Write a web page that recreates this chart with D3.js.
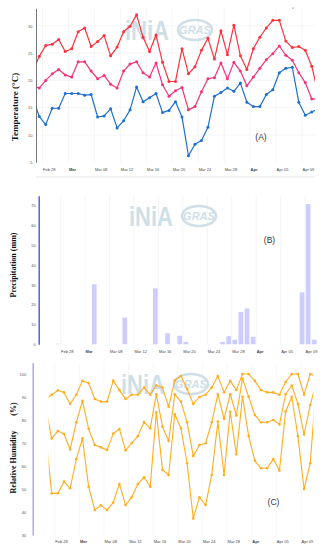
<!DOCTYPE html>
<html>
<head>
<meta charset="utf-8">
<script src="https://cdn.jsdelivr.net/npm/d3@7"></script>
<style>
  body { margin: 0; background: #fff; }
  svg { display: block; }
  .tick text { font-family: "Liberation Sans", Arial, sans-serif; }
  .ytitle { font-family: "Liberation Serif", "Times New Roman", serif; font-weight: bold; fill: #111; }
  .plabel { font-family: "Liberation Sans", Arial, sans-serif; fill: #333; }
</style>
</head>
<body>
<svg id="chart" width="323" height="550"></svg>
<script>
// one value per day, Feb 26 .. Apr 11 (first and last only show as clipped line ends)
var startDay = "2018-02-26";

var tMax = [21.6, 24.4, 26.4, 26.6, 27.5, 25.3, 25.8, 28.9, 29.6, 26.2, 27.1,
  28.2, 24.5, 26.1, 28.9, 29.9, 32.0, 27.9, 25.3, 28.3, 23.3,
  19.8, 19.8, 25.8, 21.2, 22.5, 25.5, 27.7, 23.9, 29.1, 24.7,
  30.1, 24.5, 22.0, 25.8, 27.9, 29.6, 31.0, 31.0, 27.2, 26.0,
  26.2, 25.5, 22.6, 17.6];
var tMean = [19.0, 18.6, 20.0, 21.2, 22.0, 21.0, 20.6, 23.4, 23.4, 21.7, 20.3,
  20.9, 19.3, 18.6, 21.7, 23.0, 23.4, 21.4, 20.6, 23.2, 19.2,
  17.1, 18.1, 18.7, 14.6, 15.2, 17.9, 20.3, 20.5, 23.2, 20.3,
  23.3, 21.7, 19.0, 20.6, 22.2, 23.8, 24.9, 26.3, 24.6, 23.7,
  21.4, 19.6, 16.6, 16.6];
var tMin = [16.8, 13.4, 11.9, 14.9, 14.9, 17.6, 17.6, 17.6, 17.3, 17.4, 13.3,
  13.5, 14.8, 11.3, 12.6, 14.6, 18.8, 16.1, 16.8, 17.6, 14.1,
  14.5, 16.1, 13.3, 6.2, 8.3, 9.0, 11.4, 17.1, 17.8, 18.6,
  18.0, 19.5, 16.0, 15.2, 15.2, 17.4, 18.3, 21.4, 22.2, 22.4,
  16.0, 13.6, 14.2, 14.8];

var precip = [0, 0.3, 0, 0, 0, 0, 0, 30.3, 0, 0, 0,
  0, 13.5, 0, 0, 0, 0, 28.2, 0, 5.6, 0,
  4.3, 1.2, 0, 0, 0, 0, 0, 1.2, 4.1, 2.3,
  16.3, 18.1, 3.8, 0, 0, 0, 0, 0, 0, 0,
  26.2, 70.8, 2.3, 0];

var rhMax = [88.8, 91.0, 92.9, 92.0, 87.0, 91.0, 97.0, 96.1, 89.1, 88.0, 88.0,
  97.1, 93.0, 89.1, 91.0, 91.0, 94.1, 91.0, 95.1, 94.1, 85.8,
  97.2, 99.1, 93.5, 87.0, 90.0, 91.0, 94.1, 99.1, 92.0, 97.0,
  93.0, 100, 100, 97.0, 93.0, 92.0, 92.0, 91.0, 96.5, 100,
  100, 91.0, 100, 99.0];
var rhMean = [86.0, 72.0, 75.2, 73.9, 67.2, 79.0, 88.3, 76.1, 69.1, 68.1, 67.0,
  74.1, 76.1, 66.8, 70.0, 73.0, 79.1, 76.4, 91.2, 77.1, 70.9,
  91.2, 88.0, 79.0, 64.3, 69.1, 69.9, 79.0, 91.2, 80.5, 91.2,
  82.0, 98.0, 90.1, 82.2, 79.0, 79.0, 80.0, 78.1, 91.2, 95.0,
  87.0, 73.7, 86.5, 96.5];
var rhMin = [74.3, 48.1, 48.1, 53.2, 50.3, 63.0, 72.0, 51.0, 40.9, 42.9, 40.9,
  44.1, 52.2, 43.0, 46.4, 52.2, 55.1, 51.0, 83.3, 58.3, 56.1,
  82.5, 76.4, 61.2, 37.2, 46.4, 43.0, 56.1, 79.3, 56.1, 83.6,
  65.1, 90.1, 73.0, 62.3, 59.0, 59.0, 63.0, 58.0, 83.6, 90.1,
  73.0, 50.0, 61.2, 96.0];

var tickDays = ["2018-02-28", "2018-03-04", "2018-03-08", "2018-03-12", "2018-03-16",
  "2018-03-20", "2018-03-24", "2018-03-28", "2018-04-01", "2018-04-05", "2018-04-09"];
var tickLabels = ["Feb 28", "Mar", "Mar 08", "Mar 12", "Mar 16", "Mar 20",
  "Mar 24", "Mar 28", "Apr", "Apr 05", "Apr 09"];

var tempTicks = [5, 10, 15, 20, 25, 30];
var precipTicks = [0, 10, 20, 30, 40, 50, 60, 70];
var rhTicks = [30, 40, 50, 60, 70, 80, 90, 100];

///////////////////////////////////////////////////////////////////////////////

var parseDay = d3.utcParse("%Y-%m-%d");
var first = parseDay(startDay);
var days = d3.utcDay.range(first, d3.utcDay.offset(first, tMax.length));
var noon = function (d) { return d3.utcHour.offset(d, 12); };
var tickDates = tickDays.map(parseDay);

// shown data runs from Feb 27 00:00 to Apr 11 00:00
var dataStart = days[1];
var dataEnd = days[days.length - 1];
var padStart = d3.utcHour.offset(dataStart, -62);

var svg = d3.select("#chart");
var defs = svg.append("defs");

var clip = function (id, x0, x1, y0, y1) {
  defs.append("clipPath").attr("id", id)
    .append("rect")
    .attr("x", x0).attr("y", y0)
    .attr("width", x1 - x0).attr("height", y1 - y0);
  return "url(#" + id + ")";
};

var watermark = function (cx, cy) {
  var g = svg.append("g").attr("opacity", 0.85);
  g.append("text")
    .attr("x", cx - 47).attr("y", cy + 10)
    .attr("textLength", 44).attr("lengthAdjust", "spacingAndGlyphs")
    .style("font-family", "Liberation Sans, Arial, sans-serif")
    .style("font-weight", "bold").style("font-size", "28px")
    .style("fill", "#c7dae5")
    .text("iNiA");
  g.append("ellipse")
    .attr("cx", cx + 23).attr("cy", cy).attr("rx", 17).attr("ry", 10)
    .style("fill", "none").style("stroke", "#c7dae5").style("stroke-width", 2.5);
  g.append("text")
    .attr("x", cx + 23).attr("y", cy + 4).attr("text-anchor", "middle")
    .style("font-family", "Liberation Sans, Arial, sans-serif")
    .style("font-weight", "bold").style("font-style", "italic")
    .style("font-size", "11px").style("fill", "#c7dae5")
    .text("GRAS");
};

var vGrid = function (x, y0, y1, color) {
  svg.append("g").selectAll("line").data(tickDates).enter().append("line")
    .attr("x1", function (d) { return x(d); })
    .attr("x2", function (d) { return x(d); })
    .attr("y1", y0).attr("y2", y1)
    .style("stroke", color).style("stroke-width", 0.6);
};

var xAxis = function (x, yPos) {
  var g = svg.append("g")
    .attr("transform", "translate(0," + yPos + ")")
    .call(d3.axisBottom(x).tickValues(tickDates).tickSize(0).tickPadding(3)
      .tickFormat(function (d, i) { return tickLabels[i]; }));
  g.select(".domain").remove();
  g.selectAll("text")
    .attr("text-anchor", "start")
    .style("font-size", "4px").style("fill", "#444")
    .style("font-weight", function (d, i) {
      return tickLabels[i].length === 3 ? "bold" : "normal";
    });
};

var yAxis = function (y, xPos, ticks, pad, color, width) {
  var g = svg.append("g")
    .attr("transform", "translate(" + xPos + ",0)")
    .call(d3.axisLeft(y).tickValues(ticks).tickSize(0).tickSizeOuter(0).tickPadding(pad));
  g.select(".domain").style("stroke", color).style("stroke-width", width);
  g.selectAll("text").style("font-size", "4px").style("fill", "#555");
};

var yTitle = function (text, cx, cy, size) {
  svg.append("text").attr("class", "ytitle")
    .attr("transform", "translate(" + cx + "," + cy + ") rotate(-90)")
    .attr("text-anchor", "middle").attr("dy", "0.35em")
    .style("font-size", size + "px")
    .text(text);
};

var series = function (x, y, values, color, r, width, clipUrl) {
  var pts = days.map(function (d, i) { return { date: d, v: values[i] }; });
  var g = svg.append("g").attr("clip-path", clipUrl);
  g.append("path").datum(pts)
    .attr("d", d3.line()
      .x(function (d) { return x(noon(d.date)); })
      .y(function (d) { return y(d.v); }))
    .style("fill", "none").style("stroke", color)
    .style("stroke-width", width).style("stroke-linejoin", "round");
  g.selectAll("circle").data(pts).enter().append("circle")
    .attr("cx", function (d) { return x(noon(d.date)); })
    .attr("cy", function (d) { return y(d.v); })
    .attr("r", r)
    .style("fill", color);
};

///////////////////////////////////////////////////////////////////////////////
// (A) temperature

var xA = d3.scaleUtc().domain([dataStart, dataEnd]).range([36, 315]);
var yA = d3.scaleLinear().domain([5, 33.2]).range([162.3, 8.3]);

svg.append("g").selectAll("line").data(tempTicks.slice(1)).enter().append("line")
  .attr("x1", 36).attr("x2", 315)
  .attr("y1", function (d) { return yA(d); })
  .attr("y2", function (d) { return yA(d); })
  .style("stroke", "#eeeeee").style("stroke-width", 0.6);
vGrid(xA, 8.3, 162.3, "#eeeeee");
svg.append("line").attr("x1", 36).attr("x2", 315).attr("y1", 177).attr("y2", 177)
  .style("stroke", "#e2e2e2").style("stroke-width", 0.8);

watermark(172, 30);

var clipA = clip("clipA", 36, 315, 0, 170);
series(xA, yA, tMin, "#1f6fd1", 1.5, 1.2, clipA);
series(xA, yA, tMean, "#f2337a", 1.5, 1.2, clipA);
series(xA, yA, tMax, "#fa323c", 1.5, 1.2, clipA);

yAxis(yA, 36, tempTicks, 3.5, "#666666", 0.9);
xAxis(xA, 165);
yTitle("Temperature (°C)", 15, 107, 9);

svg.append("text").attr("class", "plabel")
  .attr("x", 261).attr("y", 140).attr("text-anchor", "middle")
  .style("font-size", "8.5px").text("(A)");
svg.append("circle").attr("cx", 293).attr("cy", 8).attr("r", 0.6).style("fill", "#333");

///////////////////////////////////////////////////////////////////////////////
// (B) precipitation

var xB = d3.scaleUtc().domain([padStart, dataEnd]).range([38.7, 317.3]);
var yB = d3.scaleLinear().domain([0, 75]).range([344.3, 195.8]);

vGrid(xB, 195.8, 344.3, "#eeeeee");
watermark(176, 216);

var barW = 4.7;
svg.append("g").selectAll("rect")
  .data(days.map(function (d, i) { return { date: d, v: precip[i] }; })
    .filter(function (d) { return d.v > 0; }))
  .enter().append("rect")
  .attr("x", function (d) { return xB(noon(d.date)) - barW / 2; })
  .attr("y", function (d) { return yB(d.v); })
  .attr("width", barW)
  .attr("height", function (d) { return yB(0) - yB(d.v); })
  .style("fill", "#ccccff");

yAxis(yB, 38.7, precipTicks, 3, "#4d4dff", 1.4);
xAxis(xB, 347);
yTitle("Precipitation (mm)", 13.5, 265, 8);

svg.append("text").attr("class", "plabel")
  .attr("x", 269.5).attr("y", 243).attr("text-anchor", "middle")
  .style("font-size", "8.5px").text("(B)");

///////////////////////////////////////////////////////////////////////////////
// (C) relative humidity

var xC = d3.scaleUtc().domain([padStart, dataEnd]).range([32.7, 313.3]);
var yC = d3.scaleLinear().domain([30, 105]).range([535, 362.5]);

vGrid(xC, 362.5, 535, "#f3f3f3");
watermark(168, 384);

var clipC = clip("clipC", xC(dataStart), xC(dataEnd), 355, 540);
series(xC, yC, rhMin, "#ffad1f", 1.3, 1.1, clipC);
series(xC, yC, rhMean, "#ffad1f", 1.3, 1.1, clipC);
series(xC, yC, rhMax, "#ffad1f", 1.3, 1.1, clipC);

yAxis(yC, 32.7, rhTicks, 6.5, "#aaaaf2", 1.5);
xAxis(xC, 537.5);
yTitle("Relative Humidity", 13.5, 462, 8);
yTitle("(%)", 13.5, 409, 8);

svg.append("text").attr("class", "plabel")
  .attr("x", 273.5).attr("y", 505).attr("text-anchor", "middle")
  .style("font-size", "8.5px").text("(C)");
</script>
</body>
</html>
